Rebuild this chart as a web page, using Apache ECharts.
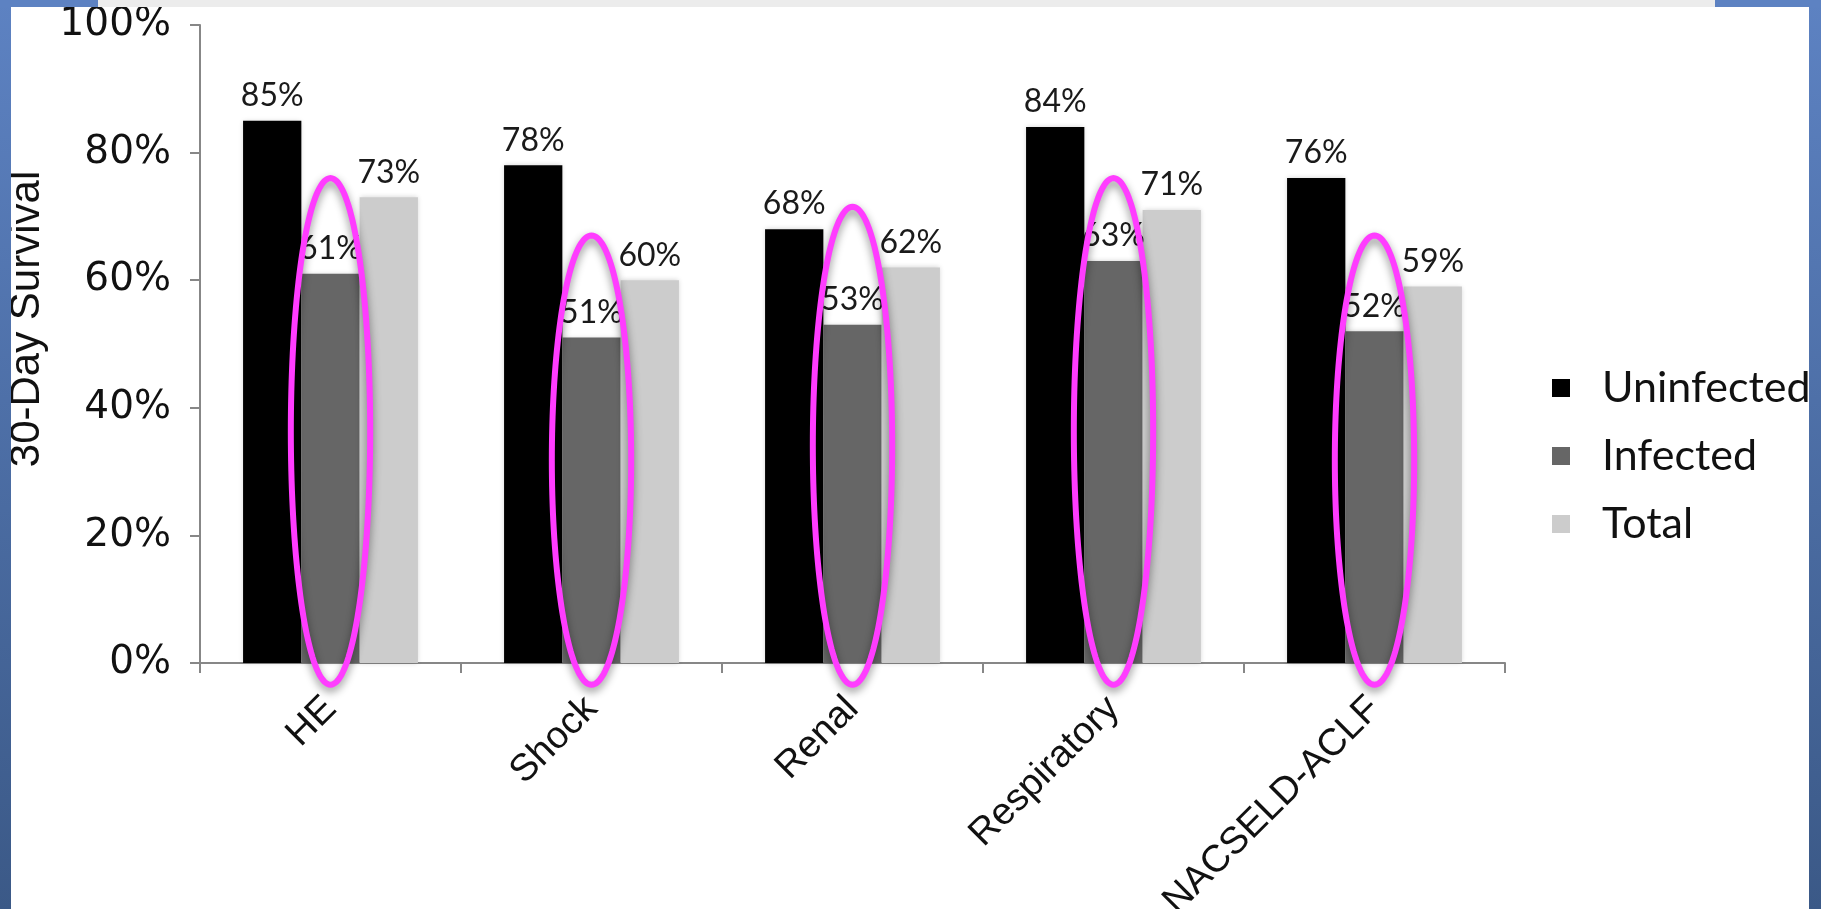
<!DOCTYPE html>
<html>
<head>
<meta charset="utf-8">
<title>30-Day Survival by Organ Failure</title>
<script src="https://cdn.jsdelivr.net/npm/echarts@6/dist/echarts.min.js"></script>
<style>
  html, body { margin: 0; padding: 0; background: #ffffff; }
  #chart { width: 1821px; height: 909px; }
</style>
</head>
<body>
<div id="chart"></div>
<script>
// Organ-failure groups on the x axis
const categories = ['HE', 'Shock', 'Renal', 'Respiratory', 'NACSELD-ACLF'];

// 30-day survival (%) per group
const uninfected = [85, 78, 68, 84, 76];
const infected   = [61, 51, 53, 63, 52];
const total      = [73, 60, 62, 71, 59];

// Y axis ticks (%)
const yTicks = [0, 20, 40, 60, 80, 100];

// Highlight rings around the infected bars: top and bottom in axis units (%)
const ringTop    = [76, 67, 71.5, 76, 67];
const ringBottom = -3.4;

const chart = echarts.init(document.getElementById('chart'), null, { renderer: 'canvas' });

const labelFont = { fontFamily: 'Lato', fontSize: 32, color: '#1a1a1a' };

function barSeries(name, values, color) {
  return {
    name: name,
    type: 'bar',
    data: values,
    barGap: '0%',
    barCategoryGap: '33%',
    itemStyle: {
      color: color,
      shadowBlur: 5,
      shadowColor: 'rgba(0,0,0,0.18)'
    },
    label: {
      show: true,
      position: 'top',
      distance: 9,
      formatter: '{c}%',
      ...labelFont
    },
    emphasis: { disabled: true },
    z: 2
  };
}

// Ring drawn as a closed ellipse outline around the middle (infected) bar
function renderRing(params, api) {
  const i = api.value(0);
  const top = api.coord([i, api.value(1)]);
  const bot = api.coord([i, api.value(2)]);
  const band = api.size([1, 0])[0];
  const rx = band * 0.152;
  const ry = (bot[1] - top[1]) / 2;
  const cx = top[0];
  const cy = (top[1] + bot[1]) / 2;
  const pts = [];
  const n = 160;
  for (let k = 0; k < n; k++) {
    const a = (k / n) * Math.PI * 2;
    pts.push([cx + rx * Math.cos(a), cy + ry * Math.sin(a)]);
  }
  return {
    type: 'polygon',
    shape: { points: pts },
    style: {
      fill: 'none',
      stroke: '#ff3cff',
      lineWidth: 6,
      shadowBlur: 8,
      shadowOffsetY: 4,
      shadowColor: 'rgba(0,0,0,0.45)'
    },
    silent: true
  };
}

const blueFill = new echarts.graphic.LinearGradient(0, 0, 0, 1, [
  { offset: 0, color: '#5d82c2' },
  { offset: 1, color: '#3b5987' }
]);

const option = {
  backgroundColor: '#ffffff',
  animation: false,
  grid: {
    left: 200, right: 316, top: 25, bottom: 246,
    containLabel: false,
    outerBoundsMode: 'none'
  },
  legend: {
    data: ['Uninfected', 'Infected', 'Total'],
    orient: 'vertical',
    left: 1547,
    top: 360,
    icon: 'rect',
    itemWidth: 18,
    itemHeight: 18,
    itemGap: 22,
    selectedMode: false,
    textStyle: {
      fontFamily: 'Lato',
      fontSize: 43,
      lineHeight: 46,
      color: '#111111',
      padding: [0, 0, 0, 27]
    }
  },
  xAxis: {
    type: 'category',
    data: categories,
    axisLine: { show: true, lineStyle: { color: '#878787', width: 2 } },
    axisTick: { show: true, inside: false, length: 10, lineStyle: { color: '#878787', width: 2 } },
    axisLabel: {
      rotate: 45,
      margin: 40,
      interval: 0,
      fontFamily: 'Liberation Sans',
      fontSize: 38,
      color: '#111111'
    },
    splitLine: { show: false }
  },
  yAxis: {
    type: 'value',
    min: yTicks[0],
    max: yTicks[yTicks.length - 1],
    interval: yTicks[1] - yTicks[0],
    name: '30-Day Survival',
    nameLocation: 'middle',
    nameGap: 136,
    nameTextStyle: {
      fontFamily: 'Liberation Sans',
      fontSize: 42,
      color: '#111111',
      padding: [0, 0, 0, 50]
    },
    axisLine: { show: true, lineStyle: { color: '#878787', width: 2 } },
    axisTick: { show: true, inside: false, length: 10, lineStyle: { color: '#878787', width: 2 } },
    axisLabel: {
      formatter: '{value}%',
      margin: 29,
      fontFamily: 'DejaVu Sans',
      fontSize: 39,
      color: '#111111'
    },
    splitLine: { show: false }
  },
  series: [
    barSeries('Uninfected', uninfected, '#000000'),
    barSeries('Infected', infected, '#666666'),
    barSeries('Total', total, '#cccccc'),
    {
      type: 'custom',
      data: categories.map((c, i) => [i, ringTop[i], ringBottom]),
      encode: { x: 0, y: 1 },
      renderItem: renderRing,
      clip: false,
      silent: true,
      z: 10
    }
  ],
  graphic: [
    // slide frame around the chart
    { type: 'rect', left: 0, top: 0, shape: { width: 11, height: 909 }, style: { fill: blueFill }, silent: true, z: 100 },
    { type: 'rect', left: 1809, top: 0, shape: { width: 12, height: 909 }, style: { fill: blueFill }, silent: true, z: 100 },
    { type: 'rect', left: 0, top: 0, shape: { width: 98, height: 7 }, style: { fill: '#5d82c2' }, silent: true, z: 100 },
    { type: 'rect', left: 98, top: 0, shape: { width: 1617, height: 7 }, style: { fill: '#ececec' }, silent: true, z: 100 },
    { type: 'rect', left: 1715, top: 0, shape: { width: 106, height: 7 }, style: { fill: '#5d82c2' }, silent: true, z: 100 }
  ]
};

chart.setOption(option);
</script>
</body>
</html>
